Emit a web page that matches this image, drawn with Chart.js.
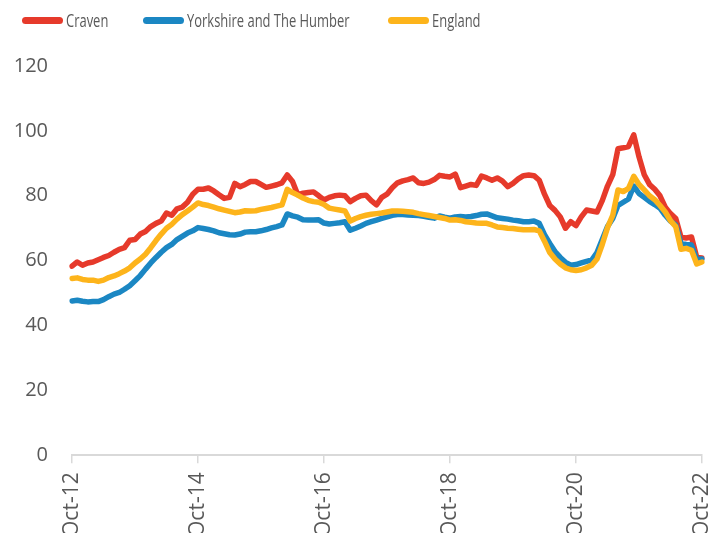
<!DOCTYPE html>
<html>
<head>
<meta charset="utf-8">
<script src="https://cdn.jsdelivr.net/npm/chart.js@4.4.1/dist/chart.umd.min.js"></script>
<style>
  html, body { margin: 0; padding: 0; background: #fff; overflow: hidden; }
  #wrap { position: relative; width: 724px; height: 546px; }
  .legend { position: absolute; top: 7px; left: 0; width: 724px; height: 26px; font-family: "Open Sans", sans-serif; font-size: 17.5px; color: #595959; }
  .item { position: absolute; top: 0; display: flex; align-items: center; height: 26px; white-space: nowrap; }
  .swatch { display: inline-block; width: 41px; height: 7px; border-radius: 4px; margin-right: 3px; }
  .label { display: inline-block; transform: scaleX(0.74); transform-origin: left center; }
</style>
</head>
<body>
<div id="wrap">
  <canvas id="myChart"></canvas>
  <div class="legend" id="legend"></div>
</div>
<script>
/* globals Chart:false */
const seriesNames = ["Craven", "Yorkshire and The Humber", "England"];
const seriesColors = ["#E63A2B", "#1B87C3", "#FDB41B"];
const legendLeft = [22, 143, 388];

// monthly categories Oct-12 .. Oct-22
const monthNames = ["Jan", "Feb", "Mar", "Apr", "May", "Jun", "Jul", "Aug", "Sep", "Oct", "Nov", "Dec"];
const categories = [];
for (let m = 9; m <= 9 + 120; m++) {
  const yr = 12 + Math.floor(m / 12);
  categories.push(monthNames[m % 12] + "-" + yr);
}
const xTickLabels = ["Oct-12", "Oct-14", "Oct-16", "Oct-18", "Oct-20", "Oct-22"];
const yTicks = [0, 20, 40, 60, 80, 100, 120];

const craven = [
  58.3, 59.6, 58.6, 59.3, 59.6, 60.3, 61, 61.6, 62.6, 63.5,
  64, 66.3, 66.5, 68.2, 69, 70.5, 71.5, 72.2, 74.7, 74,
  76, 76.5, 78, 80.5, 82, 82, 82.4, 81.5, 80.3, 79.2,
  79.5, 83.8, 82.8, 83.5, 84.4, 84.4, 83.5, 82.6, 83, 83.4,
  84, 86.4, 84.4, 80.3, 80.8, 81, 81.2, 80, 78.7, 79.5,
  80, 80.2, 80, 78.2, 79.2, 80, 80.2, 78.5, 77.2, 79.5,
  80.5, 82.5, 84, 84.6, 85, 85.5, 84, 83.8, 84.2, 85,
  86.3, 86, 85.8, 86.7, 82.5, 83, 83.5, 83.2, 86.1, 85.5,
  84.8, 85.5, 84.5, 82.8, 83.8, 85.2, 86.2, 86.4, 86.2, 84.8,
  80.5, 77, 75.5, 73.5, 70, 72, 70.8, 73.5, 75.6, 75.3,
  75, 78.5, 83, 86.5, 94.5, 94.8, 95.2, 98.8, 92, 86.5,
  83.5, 82, 80, 76.5, 74.5, 73, 67.2, 67, 67.3, 61,
  60.8
];

const yorkshire = [
  47.6, 47.8, 47.5, 47.3, 47.4, 47.4, 48, 48.9, 49.7, 50.2,
  51.2, 52.3, 53.8, 55.4, 57.4, 59.3, 61, 62.6, 64, 65,
  66.5, 67.5, 68.5, 69.2, 70.2, 69.9, 69.6, 69.2, 68.6, 68.3,
  68, 67.9, 68.2, 68.8, 68.9, 68.9, 69.2, 69.6, 70.1, 70.5,
  71, 74.4, 73.8, 73.4, 72.6, 72.5, 72.5, 72.6, 71.6, 71.3,
  71.5, 71.7, 72, 69.4, 70, 70.7, 71.5, 72, 72.5, 73,
  73.5, 74, 74.2, 74.2, 74.1, 74, 73.9, 73.7, 73.4, 73.1,
  73.8, 73.4, 73.1, 73.5, 73.6, 73.5, 73.6, 73.9, 74.3, 74.4,
  73.8, 73.2, 73, 72.8, 72.5, 72.3, 72, 72, 72.2, 71.5,
  68, 65.3, 62.8, 61, 59.5, 58.6, 58.8, 59.3, 59.8, 60.2,
  62.5, 66.5, 70.5, 73, 77, 78, 79, 83, 80.7, 79.5,
  78.3, 77.3, 76.2, 74, 72.2, 71, 65.3, 65, 64.8, 60.3,
  60.5
];

const england = [
  54.5, 54.7, 54.2, 54, 54, 53.6, 54, 54.8, 55.3, 56,
  56.8, 57.8, 59.3, 60.5, 62, 64, 66.2, 68.2, 70, 71.2,
  72.8, 74.2, 75.3, 76.5, 77.8, 77.3, 77, 76.5, 76, 75.6,
  75.2, 74.8, 75, 75.4, 75.3, 75.4, 75.8, 76.1, 76.4, 76.8,
  77.2, 82, 81, 80.2, 79.3, 78.6, 78.2, 78, 77.3, 76.2,
  75.9, 75.6, 75.3, 72.2, 73, 73.6, 74, 74.3, 74.5, 74.7,
  75, 75.3, 75.3, 75.2, 75.1, 74.9, 74.5, 74.2, 73.9, 73.6,
  73.3, 73, 72.5, 72.6, 72.4, 72, 71.8, 71.6, 71.5, 71.5,
  71, 70.4, 70.2, 70, 69.9, 69.7, 69.5, 69.5, 69.6, 69.2,
  66, 62.5, 60.5, 59, 57.8, 57.2, 57, 57.2, 57.8, 58.6,
  60.5, 65, 70.2, 74, 81.8, 81.3, 82.3, 86, 83.5, 81.8,
  80, 78.8, 77, 75, 72.3, 70.5, 63.5, 63.8, 63.2, 59,
  59.6
];

const seriesValues = [craven, yorkshire, england];

// html legend
const legendEl = document.getElementById("legend");
seriesNames.forEach((name, i) => {
  const item = document.createElement("div");
  item.className = "item";
  item.style.left = legendLeft[i] + "px";
  const sw = document.createElement("span");
  sw.className = "swatch";
  sw.style.background = seriesColors[i];
  const txt = document.createElement("span");
  txt.className = "label";
  txt.textContent = name;
  item.appendChild(sw);
  item.appendChild(txt);
  legendEl.appendChild(item);
});

const grey = "#595959";

const ctx = document.getElementById("myChart").getContext("2d");
new Chart(ctx, {
  type: "line",
  data: {
    labels: categories,
    datasets: seriesNames.map((name, i) => ({
      label: name,
      data: seriesValues[i],
      borderColor: seriesColors[i],
      backgroundColor: seriesColors[i],
      borderWidth: 5.5,
      pointRadius: 0,
      tension: 0,
      fill: false,
      borderCapStyle: "round",
      borderJoinStyle: "round",
      order: seriesNames.length - i,
    })),
  },
  options: {
    responsive: true,
    maintainAspectRatio: false,
    animation: false,
    layout: {
      padding: { top: 66, left: 13, right: 22, bottom: 0 },
    },
    plugins: {
      legend: { display: false },
      tooltip: { enabled: false },
    },
    scales: {
      x: {
        offset: false,
        afterBuildTicks: (scale) => {
          scale.ticks = scale.ticks.filter((t) => xTickLabels.includes(categories[t.value]));
        },
        afterFit: (scale) => {
          scale.paddingLeft = 0;
          scale.paddingRight = 0;
        },
        grid: {
          display: true,
          drawOnChartArea: false,
          drawTicks: true,
          tickLength: 8,
          color: "#d9d9d9",
          lineWidth: 1.5,
        },
        border: { display: true, color: "#d9d9d9", width: 2 },
        ticks: {
          autoSkip: false,
          minRotation: 90,
          maxRotation: 90,
          padding: 9,
          color: grey,
          font: { family: "'Open Sans', sans-serif", size: 21 },
        },
      },
      y: {
        min: yTicks[0],
        max: yTicks[yTicks.length - 1],
        afterBuildTicks: (scale) => {
          scale.ticks = yTicks.map((v) => ({ value: v }));
        },
        afterFit: (scale) => {
          scale.width = 59;
        },
        grid: { display: false, drawTicks: false },
        border: { display: false },
        ticks: {
          padding: 24,
          color: grey,
          font: { family: "'Open Sans', sans-serif", size: 20 },
        },
      },
    },
  },
});
</script>
</body>
</html>
